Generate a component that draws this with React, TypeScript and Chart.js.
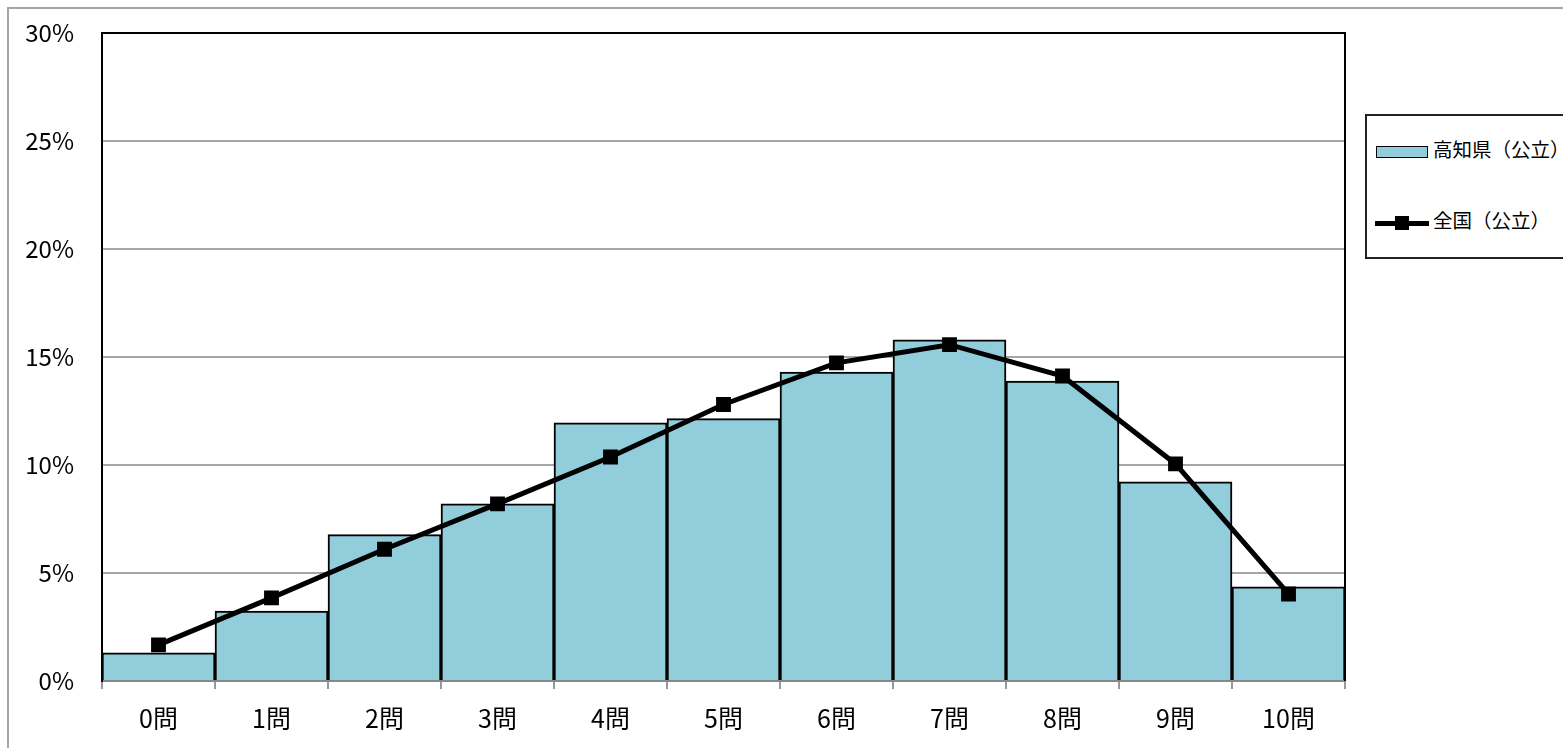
import React, { useEffect, useRef } from "react";
import { Chart, registerables } from "chart.js";

Chart.register(...registerables);

const categories = ["0問", "1問", "2問", "3問", "4問", "5問", "6問", "7問", "8問", "9問", "10問"];
const kochiValues = [1.3, 3.24, 6.78, 8.2, 11.95, 12.15, 14.3, 15.8, 13.88, 9.22, 4.36];
const nationalValues = [1.67, 3.85, 6.1, 8.2, 10.37, 12.8, 14.73, 15.57, 14.12, 10.05, 4.03];
const seriesNames = ["高知県（公立）", "全国（公立）"];
const yTicks = [0, 5, 10, 15, 20, 25, 30];

const FONT = "'Noto Sans CJK JP', 'Noto Sans', sans-serif";
const BAR_COLOR = "#92CDDC";

const framePlugin = {
  id: "frame",
  afterDraw(chart: any) {
    const { ctx, chartArea } = chart;
    ctx.save();
    ctx.strokeStyle = "#000";
    ctx.lineWidth = 2;
    ctx.beginPath();
    ctx.moveTo(chartArea.left, chartArea.bottom);
    ctx.lineTo(chartArea.left, chartArea.top);
    ctx.lineTo(chartArea.right, chartArea.top);
    ctx.lineTo(chartArea.right, chartArea.bottom);
    ctx.stroke();
    ctx.restore();
  },
};

export default function App() {
  const ref = useRef<HTMLCanvasElement | null>(null);

  useEffect(() => {
    if (!ref.current) return;
    const chart = new Chart(ref.current, {
      type: "bar",
      data: {
        labels: categories,
        datasets: [
          {
            type: "line",
            label: seriesNames[1],
            data: nationalValues,
            borderColor: "#000",
            backgroundColor: "#000",
            borderWidth: 5,
            pointStyle: "rect",
            pointRadius: 10.5,
            pointBorderWidth: 0,
            pointBackgroundColor: "#000",
            tension: 0,
            order: 0,
          } as any,
          {
            type: "bar",
            label: seriesNames[0],
            data: kochiValues,
            backgroundColor: BAR_COLOR,
            borderColor: "#000",
            borderWidth: 2,
            barPercentage: 1,
            categoryPercentage: 1,
            order: 1,
          },
        ],
      },
      options: {
        responsive: false,
        animation: false,
        layout: { padding: { left: 0, right: 218, top: 33, bottom: 0 } },
        plugins: { legend: { display: false }, tooltip: { enabled: false } },
        scales: {
          x: {
            offset: true,
            grid: {
              offset: true,
              drawOnChartArea: false,
              drawTicks: true,
              tickLength: 8,
              color: "#999",
              lineWidth: 2,
            },
            border: { display: true, color: "#888", width: 2 },
            ticks: { font: { family: FONT, size: 25 }, color: "#000", padding: 14, maxRotation: 0 },
            afterFit: (s: any) => {
              s.height = 67;
              s.paddingLeft = 0;
              s.paddingRight = 0;
            },
          },
          y: {
            min: 0,
            max: 30,
            afterBuildTicks: (s: any) => {
              s.ticks = yTicks.map((v) => ({ value: v }));
            },
            ticks: {
              font: { family: FONT, size: 24 },
              color: "#000",
              padding: 28,
              callback: (v: any) => v + "%",
            },
            grid: { color: "#a6a6a6", lineWidth: 2, drawTicks: false },
            border: { display: true, color: "#000", width: 2 },
            afterFit: (s: any) => {
              s.width = 102;
              s.paddingTop = 0;
              s.paddingBottom = 0;
            },
          },
        },
      },
      plugins: [framePlugin],
    });
    return () => chart.destroy();
  }, []);

  return (
    <div style={{ position: "fixed", left: 0, top: 0, width: 1563, height: 748, overflow: "hidden", background: "#fff" }}>
      <div
        style={{
          position: "absolute",
          left: 7,
          top: 7,
          width: 1700,
          height: 900,
          border: "2px solid #a6a6a6",
        }}
      />
      <canvas ref={ref} width={1563} height={748} style={{ position: "absolute", left: 0, top: 0 }} />
      <div
        style={{
          position: "absolute",
          left: 1365,
          top: 114,
          width: 300,
          height: 141,
          border: "2px solid #222",
          background: "#fff",
          fontFamily: FONT,
          fontSize: 19.5,
          color: "#000",
        }}
      >
        <div style={{ position: "absolute", left: 9, top: 30, width: 50, height: 10, background: BAR_COLOR, border: "1.5px solid #000" }} />
        <div style={{ position: "absolute", left: 66, top: 20, lineHeight: "26px", whiteSpace: "nowrap" }}>{seriesNames[0]}</div>
        <div style={{ position: "absolute", left: 8, top: 105, width: 54, height: 5, background: "#000" }} />
        <div style={{ position: "absolute", left: 28, top: 100, width: 14, height: 14, background: "#000" }} />
        <div style={{ position: "absolute", left: 66, top: 91, lineHeight: "26px", whiteSpace: "nowrap" }}>{seriesNames[1]}</div>
      </div>
    </div>
  );
}
